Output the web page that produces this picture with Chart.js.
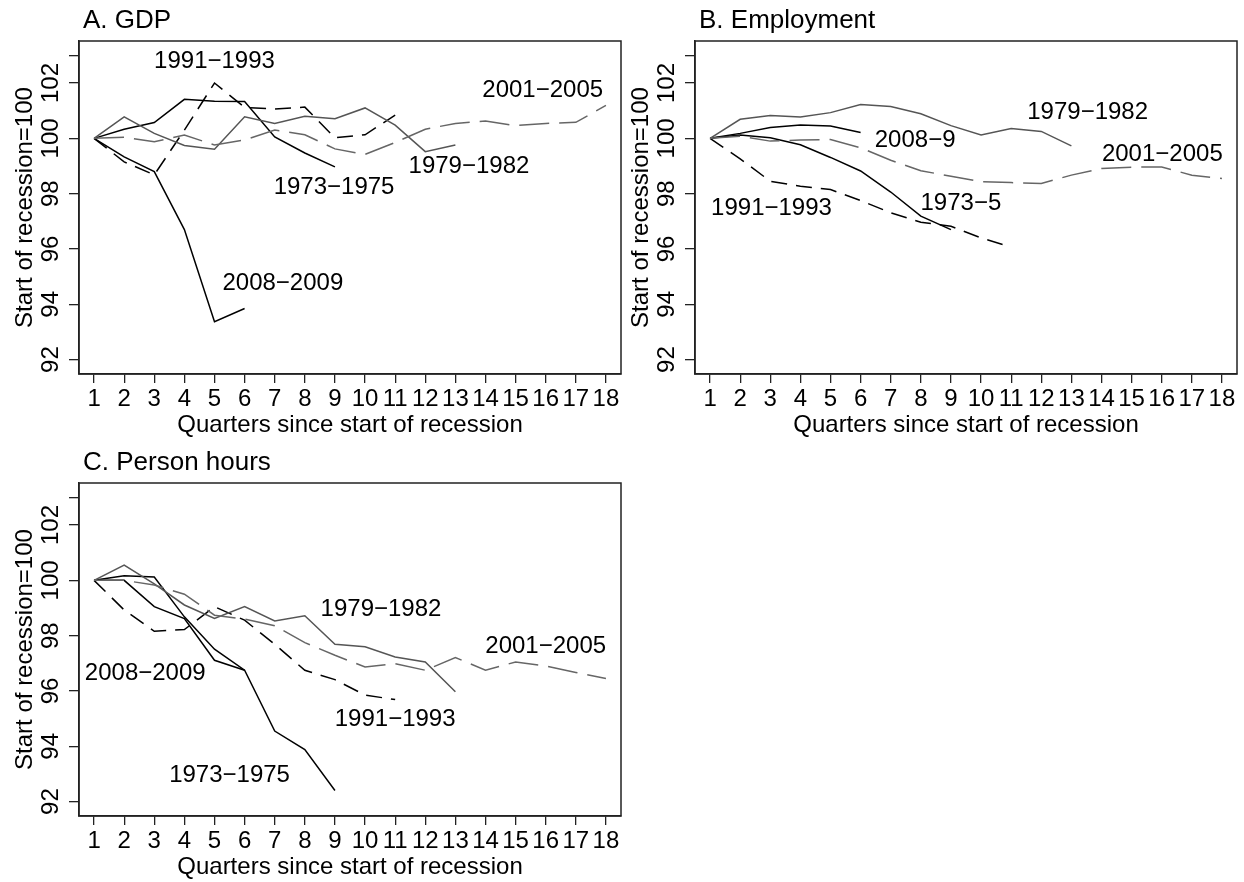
<!DOCTYPE html>
<html>
<head>
<meta charset="utf-8">
<script src="https://cdn.jsdelivr.net/npm/chart.js@4"></script>
<style>
  body { margin: 0; background: #fff; }
  #wrap { position: relative; width: 1244px; height: 882px; background: #fff; }
  canvas { position: absolute; }
</style>
</head>
<body>
<div id="wrap">
  <canvas id="gdp" width="622" height="440" style="left:0;top:0"></canvas>
  <canvas id="emp" width="622" height="440" style="left:616px;top:0"></canvas>
  <canvas id="hours" width="622" height="440" style="left:0;top:442px"></canvas>
</div>
<script>
const quarters = [1, 2, 3, 4, 5, 6, 7, 8, 9, 10, 11, 12, 13, 14, 15, 16, 17, 18];
const yTicks = [92, 94, 96, 98, 100, 102, 103];
const yLabels = [92, 94, 96, 98, 100, 102];

// A. GDP
const gdp7375 = [100, 100.33, 100.57, 101.41, 101.34, 101.33, 100.05, 99.47, 98.97];
const gdp7982 = [100, 100.78, 100.18, 99.74, 99.61, 100.78, 100.54, 100.8, 100.71, 101.1, 100.48, 99.52, 99.76];
const gdp9193 = [100, 99.15, 98.68, 100.3, 102.0, 101.12, 101.06, 101.13, 100.02, 100.13, 100.84];
const gdp0105 = [100, 100.04, 99.88, 100.12, 99.76, 99.94, 100.3, 100.13, 99.62, 99.42, 99.85, 100.33, 100.54, 100.63, 100.46, 100.54, 100.58, 101.19];
const gdp0809 = [100, 99.33, 98.8, 96.7, 93.37, 93.85];

// B. Employment
const emp7375 = [100, 100.12, 100.02, 99.77, 99.31, 98.82, 98.06, 97.19, 96.7];
const emp7982 = [100, 100.69, 100.83, 100.77, 100.93, 101.22, 101.15, 100.89, 100.46, 100.12, 100.36, 100.25, 99.73];
const emp9193 = [100, 99.26, 98.45, 98.27, 98.15, 97.75, 97.31, 96.97, 96.82, 96.4, 96.07];
const emp0105 = [100, 100.08, 99.9, 99.94, 99.96, 99.66, 99.21, 98.83, 98.63, 98.43, 98.4, 98.37, 98.67, 98.91, 98.96, 98.96, 98.67, 98.55];
const emp0809 = [100, 100.18, 100.39, 100.48, 100.45, 100.21];

// C. Person hours
const hrs7375 = [100, 100.17, 100.12, 98.68, 97.51, 96.75, 94.55, 93.88, 92.4];
const hrs7982 = [100, 100.55, 99.87, 99.11, 98.62, 99.05, 98.53, 98.72, 97.69, 97.6, 97.23, 97.05, 95.97];
const hrs9193 = [100, 98.93, 98.16, 98.22, 99.05, 98.56, 97.69, 96.75, 96.41, 95.85, 95.69];
const hrs0105 = [100, 100.0, 99.83, 99.5, 98.74, 98.6, 98.36, 97.75, 97.29, 96.87, 96.99, 96.75, 97.21, 96.75, 97.05, 96.9, 96.67, 96.45];
const hrs0809 = [100, 100, 99.05, 98.62, 97.11, 96.75];

// text labels next to the lines (quarter, index value)
const gdpNotes = [['1991\u22121993', 5.0, 102.78], ['2001\u22122005', 15.9, 101.75], ['1979\u22121982', 13.45, 98.97],
                  ['1973\u22121975', 8.97, 98.22], ['2008\u22122009', 7.27, 94.76]];
const empNotes = [['1979\u22121982', 13.54, 100.93], ['2008\u22129', 7.81, 99.94], ['2001\u22122005', 16.02, 99.43],
                  ['1973\u22125', 9.33, 97.64], ['1991\u22121993', 3.04, 97.46]];
const hrsNotes = [['1979\u22121982', 10.53, 98.96], ['2001\u22122005', 16.0, 97.6], ['2008\u22122009', 2.7, 96.63],
                  ['1991\u22121993', 11.0, 94.97], ['1973\u22121975', 5.5, 92.95]];

const FONT = 'Liberation Sans, Arial, Helvetica, sans-serif';

function pts(arr) {
  return arr.map((v, i) => ({x: quarters[i], y: v}));
}

function series(s7375, s7982, s9193, s0105, s0809) {
  return [
    {data: pts(s0105), borderColor: '#666', borderWidth: 1.5, borderDash: [30, 10]},
    {data: pts(s7982), borderColor: '#555', borderWidth: 1.5},
    {data: pts(s9193), borderColor: '#000', borderWidth: 1.5, borderDash: [16, 9]},
    {data: pts(s7375), borderColor: '#000', borderWidth: 1.5},
    {data: pts(s0809), borderColor: '#000', borderWidth: 1.5}
  ];
}

function makePanel(id, title, datasets, notes) {
  const decor = {
    id: 'decor',
    afterDraw(chart) {
      const ctx = chart.ctx, a = chart.chartArea;
      const ys = chart.scales.y, xs = chart.scales.x;
      ctx.save();
      ctx.strokeStyle = '#222';
      ctx.lineWidth = 1.5;
      ctx.strokeRect(a.left, a.top, a.right - a.left, a.bottom - a.top);

      ctx.fillStyle = '#000';
      ctx.font = '26px ' + FONT;
      ctx.textAlign = 'left';
      ctx.textBaseline = 'alphabetic';
      ctx.fillText(title, a.left + 4, a.top - 13);

      ctx.font = '24px ' + FONT;
      yLabels.forEach(v => {
        ctx.save();
        ctx.translate(58, ys.getPixelForValue(v));
        ctx.rotate(-Math.PI / 2);
        ctx.textAlign = 'center';
        ctx.fillText(String(v), 0, 0);
        ctx.restore();
      });
      ctx.save();
      ctx.translate(31.5, (a.top + a.bottom) / 2);
      ctx.rotate(-Math.PI / 2);
      ctx.textAlign = 'center';
      ctx.fillText('Start of recession=100', 0, 0);
      ctx.restore();

      ctx.textAlign = 'center';
      ctx.textBaseline = 'middle';
      notes.forEach(n => {
        ctx.fillText(n[0], xs.getPixelForValue(n[1]), ys.getPixelForValue(n[2]));
      });
      ctx.restore();
    }
  };

  new Chart(document.getElementById(id), {
    type: 'line',
    data: {datasets: datasets},
    options: {
      responsive: false,
      animation: false,
      devicePixelRatio: 1,
      layout: {padding: {top: 41, right: 1, left: 0, bottom: 0}},
      elements: {point: {radius: 0}, line: {tension: 0, fill: false}},
      plugins: {legend: {display: false}, tooltip: {enabled: false}},
      scales: {
        x: {
          type: 'linear', min: 0.5, max: 18.5,
          afterBuildTicks: s => { s.ticks = quarters.map(v => ({value: v})); },
          afterFit: s => { s.height = 66; },
          ticks: {autoSkip: false, minRotation: 0, maxRotation: 0, padding: 2, color: '#000',
                  font: {family: FONT, size: 24}, callback: v => String(v)},
          grid: {display: true, drawOnChartArea: false, drawTicks: true, tickLength: 9, color: '#222', lineWidth: 1.3},
          border: {display: true, color: '#222', width: 1.5},
          title: {display: true, text: 'Quarters since start of recession', color: '#000',
                  font: {family: FONT, size: 24}, padding: {top: 0, bottom: 0}}
        },
        y: {
          type: 'linear', min: 91.48, max: 103.52,
          afterBuildTicks: s => { s.ticks = yTicks.map(v => ({value: v})); },
          afterFit: s => { s.width = 79; },
          ticks: {display: false},
          grid: {display: true, drawOnChartArea: false, drawTicks: true, tickLength: 10, color: '#222', lineWidth: 1.3},
          border: {display: true, color: '#222', width: 1.5}
        }
      }
    },
    plugins: [decor]
  });
}

makePanel('gdp', 'A. GDP', series(gdp7375, gdp7982, gdp9193, gdp0105, gdp0809), gdpNotes);
makePanel('emp', 'B. Employment', series(emp7375, emp7982, emp9193, emp0105, emp0809), empNotes);
makePanel('hours', 'C. Person hours', series(hrs7375, hrs7982, hrs9193, hrs0105, hrs0809), hrsNotes);
</script>
</body>
</html>
